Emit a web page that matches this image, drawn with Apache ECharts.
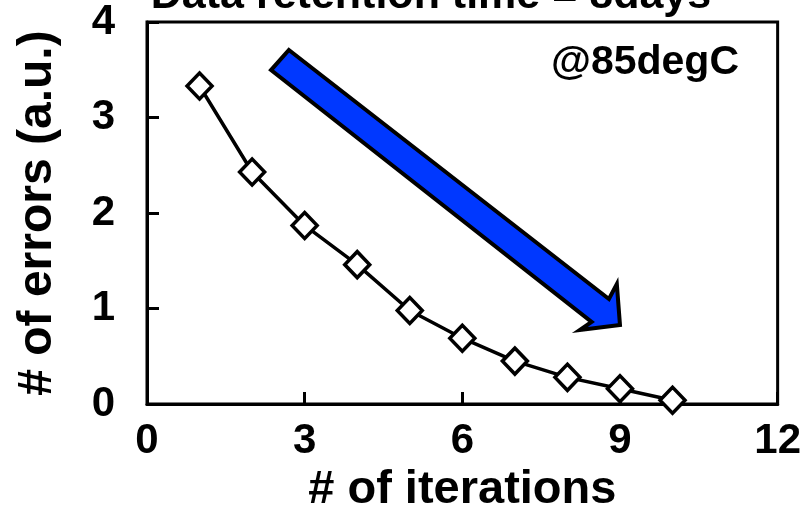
<!DOCTYPE html>
<html>
<head>
<meta charset="utf-8">
<script src="https://cdn.jsdelivr.net/npm/echarts@6/dist/echarts.min.js"></script>
<style>html,body{margin:0;padding:0;background:#fff;}#c{width:804px;height:519px;}</style>
</head>
<body>
<div id="c"></div>
<script>
// Data
var iterations = [1, 2, 3, 4, 5, 6, 7, 8, 9, 10];
var errors = [3.33, 2.43, 1.87, 1.46, 0.98, 0.69, 0.45, 0.28, 0.16, 0.04];
var xTicks = [0, 3, 6, 9, 12];
var yTicks = [0, 1, 2, 3, 4];
var titleText = 'Data retention time = 8days';
var noteText = '@85degC';
// arrow outline in data coordinates (iterations, errors)
var arrowX = [2.70, 8.79, 8.94, 9.00, 8.235, 8.46, 2.36];
var arrowY = [3.707, 1.10, 1.257, 0.827, 0.775, 0.86, 3.497];

var FONT = '"Liberation Sans", Arial, sans-serif';
var chart = echarts.init(document.getElementById('c'), null, {renderer: 'canvas'});
var option = {
  animation: false,
  backgroundColor: '#fff',
  grid: {left: 147, right: 26, top: 22, bottom: 113, show: true, borderColor: '#000', borderWidth: 3, backgroundColor: 'transparent'},
  xAxis: {
    type: 'value', min: xTicks[0], max: xTicks[xTicks.length - 1], interval: 3,
    name: '# of iterations', nameLocation: 'middle', nameGap: 58,
    nameTextStyle: {fontFamily: FONT, fontWeight: 'bold', fontSize: 47, color: '#000'},
    axisLine: {show: true, lineStyle: {color: '#000', width: 3}},
    axisTick: {show: true, inside: true, length: 12, lineStyle: {color: '#000', width: 3}},
    axisLabel: {fontFamily: FONT, fontWeight: 'bold', fontSize: 42, color: '#000', margin: 16},
    splitLine: {show: false}
  },
  yAxis: {
    type: 'value', min: yTicks[0], max: yTicks[yTicks.length - 1], interval: 1,
    name: '# of errors (a.u.)', nameLocation: 'middle', nameGap: 85, nameRotate: 90,
    nameTextStyle: {fontFamily: FONT, fontWeight: 'bold', fontSize: 48, color: '#000'},
    axisLine: {show: true, lineStyle: {color: '#000', width: 3}},
    axisTick: {show: true, inside: true, length: 12, lineStyle: {color: '#000', width: 3}},
    axisLabel: {fontFamily: FONT, fontWeight: 'bold', fontSize: 42, color: '#000', margin: 32, padding: [6, 0, 0, 0]},
    splitLine: {show: false}
  },
  series: [{
    type: 'line',
    data: iterations.map(function (x, i) { return [x, errors[i]]; }),
    symbol: 'diamond', symbolSize: [25, 26],
    lineStyle: {color: '#000', width: 3.5},
    itemStyle: {color: '#fff', borderColor: '#000', borderWidth: 3.5},
    z: 5
  }]
};
chart.setOption(option);

function drawGraphics() {
  var pts = arrowX.map(function (x, i) { return chart.convertToPixel({gridIndex: 0}, [x, arrowY[i]]); });
  chart.setOption({
    graphic: [
      {type: 'polygon', shape: {points: pts}, style: {fill: '#0038ff', stroke: '#000', lineWidth: 4, lineJoin: 'miter'}, z: 3},
      {type: 'text', style: {text: titleText, font: 'bold 43px ' + FONT, fill: '#000', textVerticalAlign: 'middle', textAlign: 'center'}, position: [431, -4]},
      {type: 'text', style: {text: noteText, font: 'bold 41px ' + FONT, fill: '#000', textAlign: 'right', textVerticalAlign: 'middle'}, position: [739, 63]}
    ]
  });
}
drawGraphics();
</script>
</body>
</html>
